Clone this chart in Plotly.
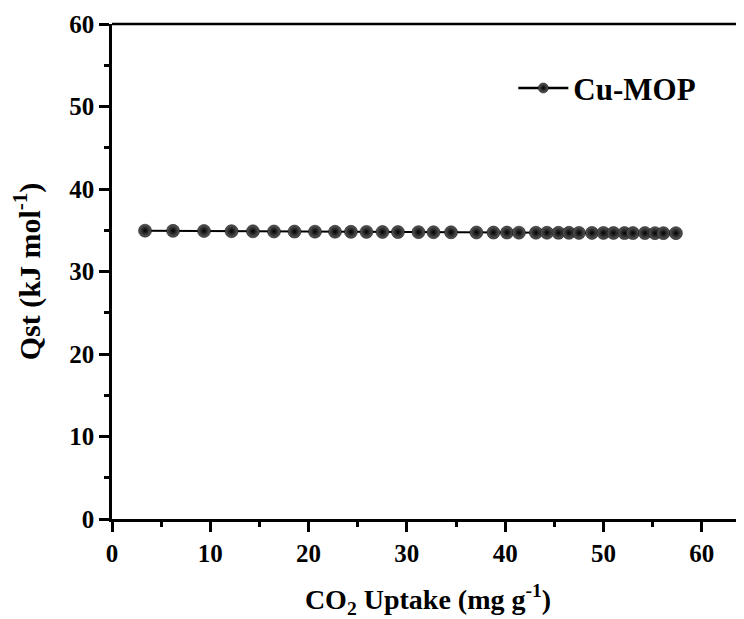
import plotly.graph_objects as go

# Data
uptake = [3.36, 6.21, 9.36, 12.16, 14.34, 16.48, 18.57, 20.65, 22.69, 24.31,
          25.89, 27.52, 29.09, 31.18, 32.71, 34.49, 37.08, 38.81, 40.18, 41.40,
          43.13, 44.25, 45.42, 46.49, 47.51, 48.83, 50.00, 51.02, 52.14, 53.00,
          54.22, 55.24, 56.10, 57.37]
qst = [34.95, 34.93, 34.91, 34.89, 34.87, 34.85, 34.84, 34.83, 34.82, 34.81,
       34.80, 34.79, 34.78, 34.77, 34.76, 34.75, 34.73, 34.72, 34.72, 34.71,
       34.70, 34.70, 34.69, 34.69, 34.68, 34.68, 34.67, 34.67, 34.66, 34.66,
       34.66, 34.65, 34.65, 34.65]
series_name = "Cu-MOP"
x_ticks = [0, 10, 20, 30, 40, 50, 60]
y_ticks = [0, 10, 20, 30, 40, 50, 60]

FONT = "Liberation Serif"

marker_style = dict(color="#5c5c5c", gradient=dict(type="radial", color="black"),
                    line=dict(width=0.5, color="black"))

fig = go.Figure()
fig.add_trace(go.Scatter(
    x=uptake, y=qst, mode="lines+markers", showlegend=False,
    line=dict(color="black", width=2),
    marker=dict(size=13, **marker_style),
))
# legend-only entry with a smaller marker
fig.add_trace(go.Scatter(
    x=[None], y=[None], mode="lines+markers", name=series_name,
    line=dict(color="black", width=2.5),
    marker=dict(size=10, **marker_style),
))

axis_common = dict(
    showline=True, linecolor="black", linewidth=2.5,
    ticks="outside", tickwidth=2.5, ticklen=10, tickcolor="black",
    showgrid=False, zeroline=False, automargin=False,
    tickfont=dict(family=FONT, size=25, color="black", weight="bold"),
    minor=dict(ticks="outside", ticklen=5, tickwidth=2.5, tickcolor="black",
               dtick=5, showgrid=False),
)

# the page body adds an 8 px offset, margins compensate for it
fig.update_layout(
    width=744, height=619,
    margin=dict(l=104, r=8, t=16, b=108),
    paper_bgcolor="white", plot_bgcolor="white",
    font=dict(family=FONT, color="black"),
    xaxis=dict(range=[0, 64.3], tickvals=x_ticks, mirror=False,
               title=dict(text="CO<sub>2</sub> Uptake (mg g<sup>-1</sup>)",
                          font=dict(family=FONT, size=28, color="black", weight="bold"),
                          standoff=24),
               **axis_common),
    yaxis=dict(range=[0, 60], tickvals=y_ticks, mirror=False,
               title=dict(text="Qst (kJ mol<sup>-1</sup>)",
                          font=dict(family=FONT, size=30, color="black", weight="bold"),
                          standoff=22),
               **axis_common),
    legend=dict(x=0.635, y=0.87, xanchor="left", yanchor="middle",
                bgcolor="rgba(0,0,0,0)", itemwidth=50,
                font=dict(family=FONT, size=31, color="black", weight="bold")),
    shapes=[dict(type="line", xref="paper", yref="paper", x0=0, x1=1, y0=1, y1=1,
                 line=dict(color="black", width=2.5))],
)

fig.write_html("out.html")
